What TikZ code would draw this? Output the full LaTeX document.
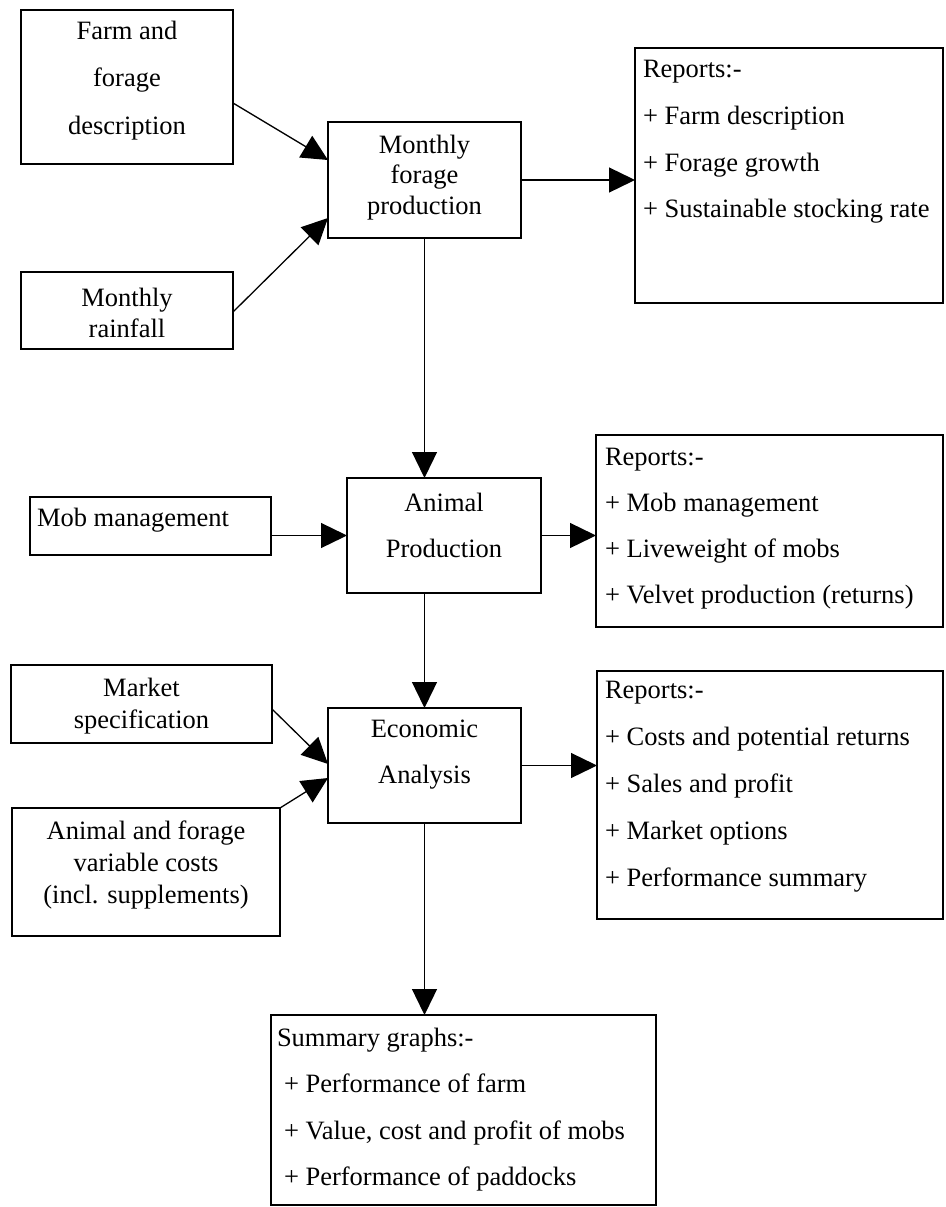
\documentclass[tikz,border=0pt]{standalone}
\usepackage{fontspec}
\setmainfont{Liberation Serif}
\usetikzlibrary{arrows.meta}
\begin{document}
\begin{tikzpicture}[x=1pt,y=-1pt,
  box/.style={draw, line width=1.8pt, inner sep=0pt, outer sep=0pt},
  txt/.style={inner sep=0pt, outer sep=0pt},
  conn/.style={line width=1.3pt, -{Triangle[length=26pt,width=25pt]}}]
\useasboundingbox (0,0) rectangle (945,1207);
% boxes
\node[box, minimum width=212pt, minimum height=154pt] (farm) at (127,87) {};
\node[box, minimum width=212pt, minimum height=77pt] (rain) at (127,310.5) {};
\node[box, minimum width=193pt, minimum height=116pt] (mfp) at (424.5,180) {};
\node[box, minimum width=308pt, minimum height=255pt] (rep1) at (789,175.5) {};
\node[box, minimum width=241pt, minimum height=58pt] (mob) at (150.5,526) {};
\node[box, minimum width=194pt, minimum height=115pt] (anim) at (444,535.5) {};
\node[box, minimum width=347pt, minimum height=192pt] (rep2) at (769.5,531) {};
\node[box, minimum width=261pt, minimum height=78pt] (mkt) at (141.5,704) {};
\node[box, minimum width=268pt, minimum height=128pt] (cost) at (146,872) {};
\node[box, minimum width=193pt, minimum height=115pt] (econ) at (424.5,765.5) {};
\node[box, minimum width=346pt, minimum height=248pt] (rep3) at (770,795) {};
\node[box, minimum width=385pt, minimum height=190pt] (summ) at (463.5,1110) {};
% texts
\node[txt, align=center, font=\fontsize{26.5}{47.5}\selectfont] (farmt) at (127,80.5) {Farm and\\forage\\description};
\node[txt, align=center, font=\fontsize{26.5}{31}\selectfont] (raint) at (127,312.5) {Monthly\\rainfall};
\node[txt, align=center, font=\fontsize{26.5}{30.5}\selectfont] (mfpt) at (424.5,177.5) {Monthly\\forage\\production};
\node[txt, align=left, anchor=west, font=\fontsize{26.5}{46.7}\selectfont] (rep1t) at (643,142) {Reports:-\\+ Farm description\\+ Forage growth\\+ Sustainable stocking rate};
\node[txt, anchor=west, font=\fontsize{26.5}{32}\selectfont] (mobt) at (37,520) {Mob management};
\node[txt, align=center, font=\fontsize{26.5}{46}\selectfont] (animt) at (444,525) {Animal\\Production};
\node[txt, align=left, anchor=west, font=\fontsize{26.5}{46}\selectfont] (rep2t) at (605,529) {Reports:-\\+ Mob management\\+ Liveweight of mobs\\+ Velvet production (returns)};
\node[txt, align=center, font=\fontsize{26.5}{32}\selectfont] (mktt) at (141.5,706) {Market\\specification};
\node[txt, align=center, font=\fontsize{26.5}{32}\selectfont] (costt) at (146,865) {Animal and forage\\variable costs\\(incl. supplements)};
\node[txt, align=center, font=\fontsize{26.5}{46}\selectfont] (econt) at (424.5,755) {Economic\\Analysis};
\node[txt, align=left, anchor=west, font=\fontsize{26.5}{47}\selectfont] (rep3t) at (605,787) {Reports:-\\+ Costs and potential returns\\+ Sales and profit\\+ Market options\\+ Performance summary};
\node[txt, align=left, anchor=west, font=\fontsize{26.5}{46.3}\selectfont] (summt) at (277,1109.5) {Summary graphs:-\\\hspace*{7pt}+ Performance of farm\\\hspace*{7pt}+ Value, cost and profit of mobs\\\hspace*{7pt}+ Performance of paddocks};
% connectors
\draw[conn] ([yshift=-16pt]farm.east) -- ([yshift=20pt]mfp.west);
\draw[conn] ([yshift=-1.5pt]rain.east) -- ([yshift=-38pt]mfp.west);
\draw[conn] (mfp.east) -- (mfp.east -| rep1.west);
\draw[conn] (mfp.south) -- (mfp.south |- anim.north);
\draw[conn] (anim.west -| mob.east) -- (anim.west);
\draw[conn] (anim.east) -- (anim.east -| rep2.west);
\draw[conn] (econ.north |- anim.south) -- (econ.north);
\draw[conn] ([yshift=-5pt]mkt.east) -- ([yshift=1.5pt]econ.west);
\draw[conn] (cost.north east) -- ([yshift=-12.5pt]econ.west);
\draw[conn] (econ.east) -- (econ.east -| rep3.west);
\draw[conn] (econ.south) -- (econ.south |- summ.north);
\end{tikzpicture}
\end{document}
